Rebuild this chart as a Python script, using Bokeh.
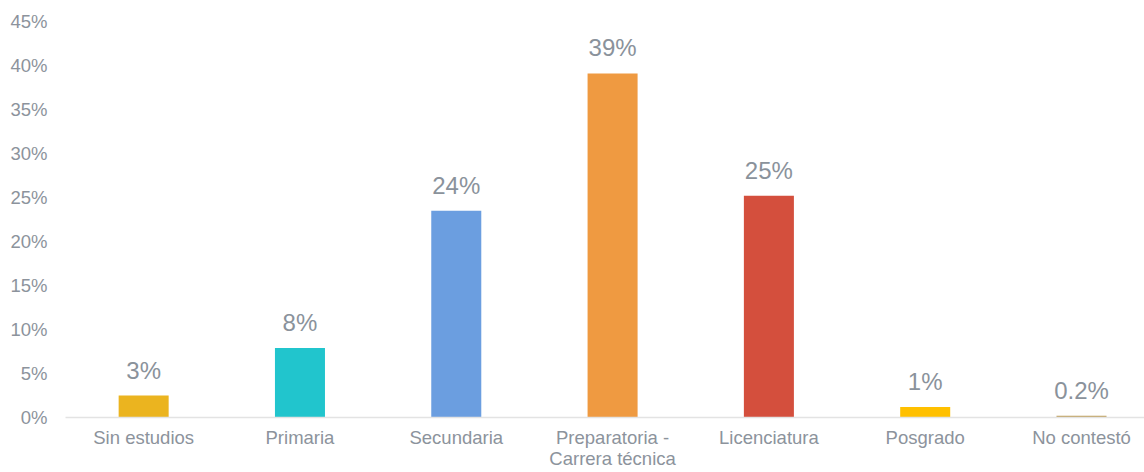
from bokeh.plotting import figure
from bokeh.models import ColumnDataSource, Range1d, FixedTicker, PrintfTickFormatter
from bokeh.core.properties import value
from bokeh.embed import file_html
from bokeh.resources import INLINE

categories = ["Sin estudios", "Primaria", "Secundaria", "Preparatoria -\nCarrera técnica",
              "Licenciatura", "Posgrado", "No contestó"]
percentages = [2.5, 7.9, 23.5, 39.1, 25.2, 1.2, 0.2]
value_labels = ["3%", "8%", "24%", "39%", "25%", "1%", "0.2%"]
bar_colors = ["#EBB41F", "#21C5CD", "#6B9EE0", "#EF9A41", "#D44F3D", "#FFC000", "#BFA05E"]
y_ticks = [0, 5, 10, 15, 20, 25, 30, 35, 40, 45]

positions = list(range(len(categories)))
src = ColumnDataSource(dict(x=positions, top=percentages, label=value_labels, color=bar_colors))

FONT = "Liberation Sans"
TEXT_COLOR = "#8C939C"

p = figure(width=1144, height=472, output_backend="svg", toolbar_location=None,
           x_range=Range1d(-0.5, 6.403), y_range=Range1d(0, 45),
           min_border_left=65, min_border_right=0, min_border_top=21, min_border_bottom=52)
p.outline_line_color = None
p.background_fill_color = "white"
p.border_fill_color = "white"
p.xgrid.visible = False
p.ygrid.visible = False

p.vbar(x="x", top="top", bottom=0, width=0.32, color="color", source=src, line_color=None)
p.text(x="x", y="top", text="label", source=src, y_offset=-12,
       text_align="center", text_baseline="bottom",
       text_font=value(FONT), text_font_size="24px", text_color="#8A929B")

# y axis
p.yaxis.ticker = FixedTicker(ticks=y_ticks)
p.yaxis.formatter = PrintfTickFormatter(format="%d%%")
p.yaxis.axis_line_color = None
p.yaxis.major_tick_line_color = None
p.yaxis.minor_tick_line_color = None
p.yaxis.major_label_standoff = 12
p.yaxis.major_label_text_font = FONT
p.yaxis.major_label_text_font_size = "18.5px"
p.yaxis.major_label_text_color = TEXT_COLOR

# x axis
p.xaxis.ticker = FixedTicker(ticks=positions)
p.xaxis.major_label_overrides = {i: c for i, c in enumerate(categories)}
p.xaxis.axis_line_color = "#E3E3E3"
p.xaxis.axis_line_width = 1.5
p.xaxis.major_tick_line_color = None
p.xaxis.minor_tick_line_color = None
p.xaxis.major_tick_out = 0
p.xaxis.major_label_standoff = 9
p.xaxis.major_label_text_font = FONT
p.xaxis.major_label_text_font_size = "18.5px"
p.xaxis.major_label_text_line_height = 1.03
p.xaxis.major_label_text_color = TEXT_COLOR

open("out.html", "w").write(file_html(p, INLINE))
